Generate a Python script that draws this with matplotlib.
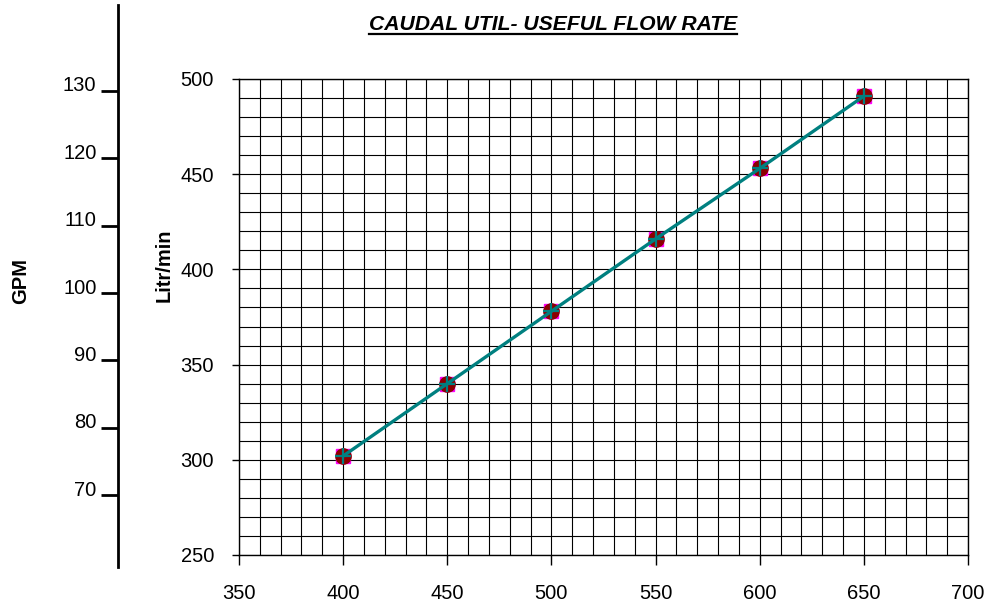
import matplotlib
matplotlib.use("Agg")
import matplotlib.pyplot as plt
import matplotlib.transforms as mtransforms
from matplotlib.lines import Line2D
import numpy as np

plt.rcParams['font.family'] = ['Liberation Sans', 'DejaVu Sans']

# ============================== DATA =================================
rpm = [400, 450, 500, 550, 600, 650]
flow_lpm = [302, 340, 378, 416, 453, 491]
gpm_ticks = [70, 80, 90, 100, 110, 120, 130]

W, H = 989, 606
fig = plt.figure(figsize=(W / 100, H / 100), dpi=100)
FS = 14.5

# ============================== MAIN AXES =================================
ax = fig.add_axes([239 / W, 1 - 555 / H, (968 - 239) / W, (555 - 79) / H])
ax.set_xlim(350, 700)
ax.set_ylim(250, 500)
ax.set_xticks(np.arange(350, 701, 50))
ax.set_yticks(np.arange(250, 501, 50))
ax.set_xticks(np.arange(350, 701, 10), minor=True)
ax.set_yticks(np.arange(250, 501, 10), minor=True)
ax.grid(which='both', color='black', linewidth=0.8)
ax.tick_params(axis='x', which='major', direction='out', length=7, width=1, pad=14, labelsize=FS)
ax.tick_params(axis='y', which='major', direction='out', length=5, width=1, pad=13, labelsize=FS)
ax.tick_params(which='minor', length=0)
for s in ax.spines.values():
    s.set_color('black')
    s.set_linewidth(1)

ax.plot(rpm, flow_lpm, 's', color='#ff00ff', markersize=10.5, zorder=3)
ax.plot(rpm, flow_lpm, 'o', color='#8b0000', markersize=11, zorder=4)
ax.plot(rpm, flow_lpm, '-+', color='#008080', linewidth=2.4, markersize=11,
        markeredgewidth=1.6, zorder=5)

fig.text(164 / W, 1 - 265 / H, 'Litr/min', rotation=90, fontsize=FS, fontweight='bold',
         ha='center', va='center')

# ============================== GPM AXIS =================================
top, bot = 5, 567
g_top = 130 + (91 - top) / 6.75
g_bot = 70 - (bot - 495) / 6.75
gax = fig.add_axes([118 / W, 1 - bot / H, 0.001, (bot - top) / H])
gax.set_ylim(g_bot, g_top)
gax.set_yticks(gpm_ticks)
gax.set_xticks([])
for k in ['top', 'right', 'bottom']:
    gax.spines[k].set_visible(False)
gax.spines['left'].set_linewidth(2)
gax.patch.set_visible(False)
gax.tick_params(axis='y', direction='out', length=12.5, width=2, pad=3, labelsize=FS)
off = mtransforms.ScaledTranslation(0, 5 / 72, fig.dpi_scale_trans)
for lab in gax.get_yticklabels():
    lab.set_transform(lab.get_transform() + off)

fig.text(21 / W, 1 - 281 / H, 'GPM', rotation=90, fontsize=FS, fontweight='bold',
         ha='center', va='center')

# ============================== TITLE =================================
title = fig.text(553 / W, 1 - 24 / H, 'CAUDAL UTIL- USEFUL FLOW RATE', fontsize=15.2,
                 fontweight='bold', fontstyle='italic', ha='center', va='center')
fig.canvas.draw()
bb = title.get_window_extent(fig.canvas.get_renderer())
y_ul = 1 - 33.5 / H
fig.add_artist(Line2D([bb.x0 / W, bb.x1 / W], [y_ul, y_ul], color='black',
                      linewidth=1.6, transform=fig.transFigure))

fig.savefig('out.png', dpi=100)
